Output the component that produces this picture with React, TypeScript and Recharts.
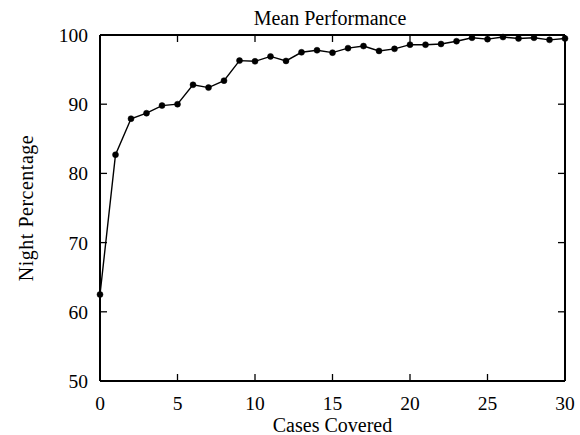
import { LineChart, Line, XAxis, YAxis } from 'recharts';

const casesCovered = [0, 1, 2, 3, 4, 5, 6, 7, 8, 9, 10, 11, 12, 13, 14, 15, 16, 17, 18, 19, 20, 21, 22, 23, 24, 25, 26, 27, 28, 29, 30];
const meanPerformance = [
  62.5, 82.7, 87.9, 88.7, 89.8, 90.0, 92.8, 92.4, 93.4, 96.3, 96.2, 96.9, 96.25, 97.5, 97.8, 97.45,
  98.1, 98.4, 97.7, 98.0, 98.6, 98.6, 98.7, 99.1, 99.6, 99.4, 99.7, 99.5, 99.6, 99.3, 99.5,
];
const xTicks = [0, 5, 10, 15, 20, 25, 30];
const yTicks = [50, 60, 70, 80, 90, 100];

const data = casesCovered.map((c, i) => ({ cases: c, pct: meanPerformance[i] }));

const FONT = '"Liberation Serif", "DejaVu Serif", serif';
const TICK_LEN = 7;

const BottomTick = (props: any) => {
  const { x, y, payload } = props;
  return (
    <g>
      <line x1={x} y1={y} x2={x} y2={y - TICK_LEN} stroke="#000" strokeWidth={1.3} />
      <text x={x} y={y + 29} textAnchor="middle" fontFamily={FONT} fontSize={19.5} fill="#000">
        {payload.value}
      </text>
    </g>
  );
};

const TopTick = (props: any) => {
  const { x, y } = props;
  return <line x1={x} y1={y} x2={x} y2={y + TICK_LEN} stroke="#000" strokeWidth={1.3} />;
};

const LeftTick = (props: any) => {
  const { x, y, payload } = props;
  return (
    <g>
      <line x1={x} y1={y} x2={x + TICK_LEN} y2={y} stroke="#000" strokeWidth={1.3} />
      <text x={x - 12} y={y + 7} textAnchor="end" fontFamily={FONT} fontSize={19.5} fill="#000">
        {payload.value}
      </text>
    </g>
  );
};

const RightTick = (props: any) => {
  const { x, y } = props;
  return <line x1={x} y1={y} x2={x - TICK_LEN} y2={y} stroke="#000" strokeWidth={1.3} />;
};

const YLabel = (props: any) => {
  const { viewBox } = props;
  const cx = viewBox.x - 7;
  const cy = viewBox.y + viewBox.height / 2;
  return (
    <text
      x={cx}
      y={cy}
      transform={`rotate(-90 ${cx} ${cy})`}
      textAnchor="middle"
      fontFamily={FONT}
      fontSize={20}
      letterSpacing={0.5}
      fill="#000"
    >
      Night Percentage
    </text>
  );
};

export default function App() {
  return (
    <div style={{ position: 'absolute', left: 0, top: 0, width: 580, height: 435, background: '#fff' }}>
      <LineChart width={580} height={435} data={data} margin={{ top: 34, right: 14, bottom: 0, left: 40 }}>
        <text x={330} y={25} textAnchor="middle" fontFamily={FONT} fontSize={20} fill="#000">
          Mean Performance
        </text>
        <XAxis
          dataKey="cases"
          type="number"
          domain={[0, 30]}
          ticks={xTicks}
          height={54}
          tickSize={0}
          tickMargin={0}
          tickLine={false}
          tick={<BottomTick />}
          axisLine={{ stroke: '#000', strokeWidth: 2 }}
          label={{ value: 'Cases Covered', position: 'insideBottom', offset: 3, fill: '#000', fontFamily: FONT, fontSize: 20 }}
        />
        <XAxis
          xAxisId="top"
          orientation="top"
          dataKey="cases"
          type="number"
          domain={[0, 30]}
          ticks={xTicks}
          height={1}
          tickSize={0}
          tickMargin={0}
          tickLine={false}
          tick={<TopTick />}
          axisLine={{ stroke: '#000', strokeWidth: 2 }}
        />
        <YAxis
          type="number"
          domain={[50, 100]}
          ticks={yTicks}
          width={60}
          tickSize={0}
          tickMargin={0}
          tickLine={false}
          tick={<LeftTick />}
          axisLine={{ stroke: '#000', strokeWidth: 2 }}
          label={<YLabel />}
        />
        <YAxis
          yAxisId="right"
          orientation="right"
          type="number"
          domain={[50, 100]}
          ticks={yTicks}
          width={1}
          tickSize={0}
          tickMargin={0}
          tickLine={false}
          tick={<RightTick />}
          axisLine={{ stroke: '#000', strokeWidth: 2 }}
        />
        <Line
          xAxisId="top"
          yAxisId="right"
          dataKey="pct"
          stroke="none"
          dot={false}
          legendType="none"
          isAnimationActive={false}
        />
        <Line
          dataKey="pct"
          type="linear"
          stroke="#000"
          strokeWidth={1.4}
          dot={{ r: 3, fill: '#000', stroke: '#000', strokeWidth: 0.5 }}
          isAnimationActive={false}
        />
      </LineChart>
    </div>
  );
}
